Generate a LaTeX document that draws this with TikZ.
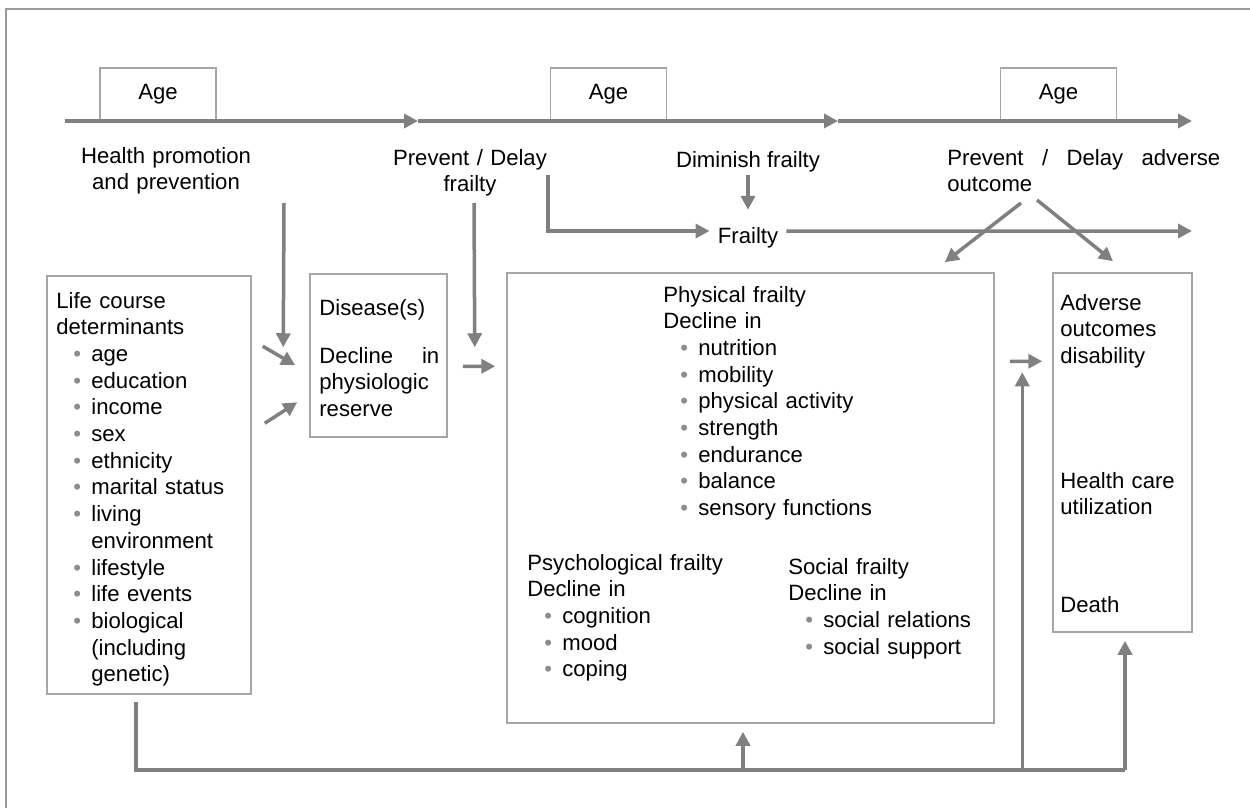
\documentclass[tikz,border=0pt]{standalone}
\usepackage{fontspec}
\setmainfont{Liberation Sans}
\usepackage{xcolor}
\usepackage{tikz}
\usetikzlibrary{arrows.meta,calc,positioning,fit}

\definecolor{arrowgrey}{HTML}{808080}
\definecolor{boxgrey}{HTML}{A6A6A6}
\definecolor{framegrey}{HTML}{999999}
\definecolor{dotgrey}{HTML}{8C8C8C}

\newcommand{\bitem}[1]{\hspace*{0.34cm}\makebox[0.36cm][l]{\textcolor{dotgrey}{\textbullet}}#1}
\newcommand{\bcont}[1]{\hspace*{0.70cm}#1}

\begin{document}
\begin{tikzpicture}[x=0.02cm, y=-0.02cm, arrow/.style = {line width=0.07cm, draw=arrowgrey, -{Triangle[length=0.28cm,width=0.28cm]}}, link/.style = {line width=0.07cm, draw=arrowgrey}]
		\tikzset{box/.style={draw=boxgrey,line width=0.03cm,inner sep=0pt}}
		\tikzset{txt/.style={inner sep=0pt,font=\fontsize{12.6}{15.2}\selectfont}}
		\tikzset{agebox/.style={box,txt,minimum width=2.32cm,minimum height=1.06cm}}

		\useasboundingbox (0,0) rectangle (1250,808);
		\draw[framegrey, line width=0.04cm] (1250,9) -- (6,9) -- (6,808);

		% Age axis
		\node[agebox] (age1) at (158,94.5) {Age};
		\node[agebox] (age2) at (608.5,94.5) {Age};
		\node[agebox] (age3) at (1058.5,94.5) {Age};

		\coordinate (ax0) at (65,121);
		\coordinate (ax1) at (418,121);
		\coordinate (ax2) at (838,121);
		\coordinate (ax3) at (1192,121);

		\draw [arrow, line width=0.08cm] (ax0) -- (ax1);
		\draw [arrow, line width=0.08cm] (ax1) -- (ax2);
		\draw [arrow, line width=0.08cm] (ax2) -- (ax3);

		% Interventions
		\node[txt, text width=4cm, align=center, anchor=base] (hp) at (166,163) {Health promotion\\and prevention};
		\node[txt, text width=4cm, align=center, anchor=base] (pdf) at (470,165) {Prevent / Delay\\frailty};
		\node[txt, anchor=base] (dim) at (748,167) {Diminish frailty};
		\node[txt, text width=5.46cm, align=left, anchor=base west] (pda) at (947,165) {Prevent \hfill / \hfill Delay \hfill adverse\\outcome};

		\node[txt, inner xsep=0.16cm] (frailty) at (748,238) {Frailty};

		% Boxes
		\node[box, fit={(47,276) (251,694)}] (life) {};
		\node[box, fit={(310,274) (447,437)}] (disease) {};
		\node[box, fit={(507,273) (994,723)}] (frbox) {};
		\node[box, fit={(1053,273) (1192,632)}] (adverse) {};

		\node[txt, text width=3.9cm, align=left, anchor=base west] (lifetxt) at (56,308) {Life course\\determinants\\\bitem{age}\\\bitem{education}\\\bitem{income}\\\bitem{sex}\\\bitem{ethnicity}\\\bitem{marital status}\\\bitem{living}\\\bcont{environment}\\\bitem{lifestyle}\\\bitem{life events}\\\bitem{biological}\\\bcont{(including}\\\bcont{genetic)}};

		\node[txt, text width=2.4cm, align=left, anchor=base west] (distxt) at (319,315) {Disease(s)\\[0.43cm]Decline \hfill in\\physiologic\\reserve};

		\node[txt, text width=6cm, align=left, anchor=base west] (phys) at (663,302) {Physical frailty\\Decline in\\\bitem{nutrition}\\\bitem{mobility}\\\bitem{physical activity}\\\bitem{strength}\\\bitem{endurance}\\\bitem{balance}\\\bitem{sensory functions}};
		\node[txt, text width=5cm, align=left, anchor=base west] (psych) at (527,570) {Psychological frailty\\Decline in\\\bitem{cognition}\\\bitem{mood}\\\bitem{coping}};
		\node[txt, text width=4cm, align=left, anchor=base west] (social) at (788,574) {Social frailty\\Decline in\\\bitem{social relations}\\\bitem{social support}};

		\node[txt, text width=2.6cm, align=left, anchor=base west] (advtxt) at (1060,310) {Adverse\\outcomes\\disability};
		\node[txt, text width=2.6cm, align=left, anchor=base west] (hcutxt) at (1060,488) {Health care\\utilization};
		\node[txt, anchor=base west] (deathtxt) at (1060,612) {Death};

		% Arrows
		\coordinate (hpdown) at (284,203);
		\coordinate (pdfdown) at (474,203);
		\coordinate (pdfelbow) at (548,175);
		\coordinate (frend) at (1192,231);
		\coordinate (pdaL) at (1021,203);
		\coordinate (pdaR) at (1037,200);

		\draw [arrow] (hpdown) -- ($(disease.north west)+(-26,74)$);
		\draw [arrow] (pdfdown) -- ($(disease.north east)+(27,74)$);
		\draw [arrow] (pdfelbow) |- ([yshift=0.14cm]frailty.west);
		\draw [arrow] ([yshift=-0.06cm]dim.south) -- ([yshift=0.35cm]frailty.north);
		\draw [arrow] ([yshift=0.14cm]frailty.east) -- (frend);
		\draw [arrow] (pdaL) -- ($(frbox.north east)+(-50,-10)$);
		\draw [arrow] (pdaR) -- ($(adverse.north)+(-9.5,-11)$);

		\draw [arrow] ($(life.north east)+(11,71)$) -- ($(disease.north west)+(-14,92)$);
		\draw [arrow] ($(life.north east)+(13,148)$) -- ($(disease.north west)+(-12,129)$);
		\draw [arrow] ($(disease.north east)+(15,93)$) -- ($(frbox.north west)+(-11,94)$);
		\draw [arrow] ($(frbox.north east)+(15,89)$) -- ($(adverse.north west)+(-10,89)$);

		\draw [link] ($(life.south)+(-13,7)$) |- ($(adverse.south)+(2.5,137)$);
		\draw [arrow] ($(adverse.south)+(2.5,137)$) -- ($(adverse.south)+(2.5,8)$);
		\draw [arrow] ($(frbox.south)+(-7.5,46)$) -- ($(frbox.south)+(-7.5,8)$);
		\draw [arrow] ($(adverse.south west)+(-30,137)$) -- ($(adverse.north west)+(-30,100)$);

	\end{tikzpicture}
\end{document}
